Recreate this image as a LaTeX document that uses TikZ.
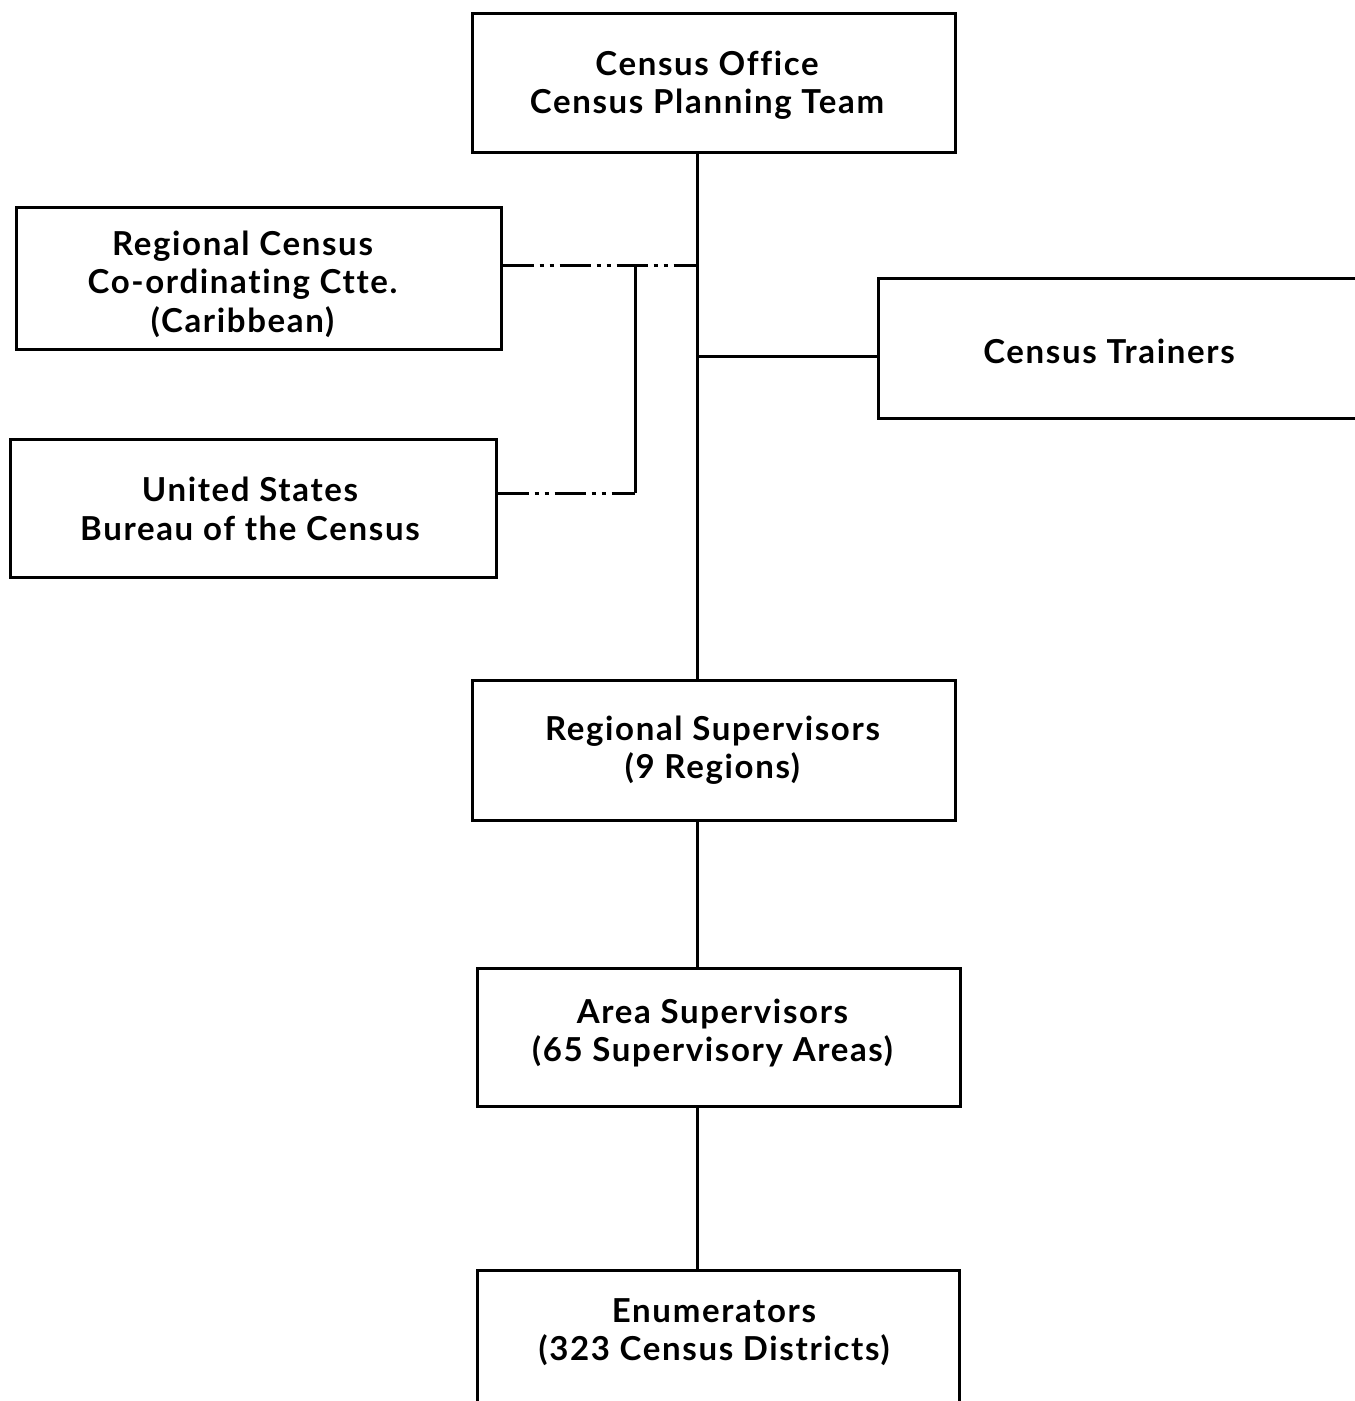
\documentclass[tikz,border=0pt]{standalone}
\usepackage{fontspec}
\setmainfont[LetterSpace=5,Ligatures={NoCommon}]{Lato}
\begin{document}
\begin{tikzpicture}[x=1pt,y=-1pt,
  box/.style={draw,line width=3pt,inner sep=0pt},
  txt/.style={inner sep=0pt,align=center,font=\bfseries\fontsize{33}{38.5}\selectfont},
  link/.style={line width=3pt},
  dashdot/.style={line width=3pt,dash pattern=on 31pt off 6pt on 4pt off 6pt on 4pt off 6pt}]
\useasboundingbox (0,0) rectangle (1355,1401);
% boxes
\node[box,minimum width=483pt,minimum height=139pt] (office) at (713.5,82.5) {};
\node[box,minimum width=485pt,minimum height=142pt] (rcc) at (258.5,278) {};
\node[box,minimum width=487pt,minimum height=140pt] (trainers) at (1121.5,348) {};
\node[box,minimum width=486pt,minimum height=138pt] (us) at (253,508) {};
\node[box,minimum width=483pt,minimum height=140pt] (regsup) at (713.5,750) {};
\node[box,minimum width=483pt,minimum height=138pt] (areasup) at (718.5,1037) {};
\node[box,minimum width=482pt,minimum height=150pt] (enum) at (718,1345) {};
% texts
\node[txt] (officetext) at (707,85) {Census Office\\Census Planning Team};
\node[txt] (rcctext) at (242.5,284) {Regional Census\\Co-ordinating Ctte.\\(Caribbean)};
\node[txt] (trainerstext) at (1109,351) {Census Trainers};
\node[txt] (ustext) at (250,509) {United States\\Bureau of the Census};
\node[txt] (regsuptext) at (712.5,750) {Regional Supervisors\\(9 Regions)};
\node[txt] (areasuptext) at (712.5,1033) {Area Supervisors\\(65 Supervisory Areas)};
\node[txt] (enumtext) at (714,1332) {Enumerators\\(323 Census Districts)};
% connectors
\coordinate (trunk) at (697,0);
\coordinate (j1) at (697,265);
\coordinate (j2) at (635,265);
\coordinate (j3) at (635,493);
\coordinate (j4) at (697,356);
\draw[link] (office.south -| trunk) -- (regsup.north -| trunk);
\draw[dashdot] (rcc.east |- j1) -- (j1);
\draw[link] (j2) -- (j3);
\draw[dashdot] (us.east |- j3) -- (j3);
\draw[link] (j4) -- (trainers.west |- j4);
\draw[link] (regsup.south -| trunk) -- (areasup.north -| trunk);
\draw[link] (areasup.south -| trunk) -- (enum.north -| trunk);
\end{tikzpicture}
\end{document}
